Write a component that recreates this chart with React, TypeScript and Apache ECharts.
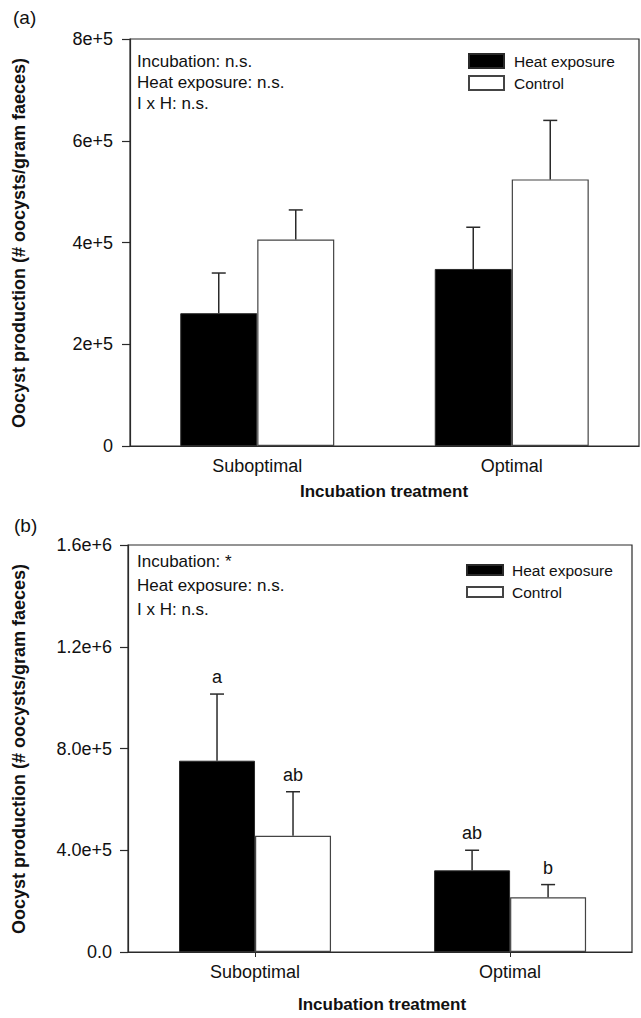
import React, { useEffect, useRef } from "react";
import * as echarts from "echarts";

const categories = ["Suboptimal", "Optimal"];

// Panel (a)
const heatA = [261000, 348000];
const heatAErr = [79000, 82000];
const controlA = [406000, 524000];
const controlAErr = [58000, 116000];

// Panel (b)
const heatB = [752000, 321000];
const heatBErr = [262000, 79000];
const controlB = [457000, 215000];
const controlBErr = [173000, 50000];
const lettersHeatB = ["a", "ab"];
const lettersControlB = ["ab", "b"];

const statsA = ["Incubation: n.s.", "Heat exposure: n.s.", "I x H: n.s."];
const statsB = ["Incubation: *", "Heat exposure: n.s.", "I x H: n.s."];

const FONT = "'Liberation Sans', Arial, Helvetica, sans-serif";
const DARK = "#2a2a2a";

function errSeries(name: string, gridIdx: number, means: number[], errs: number[], sign: number, barW: number, letters?: string[]) {
  return {
    type: "custom",
    name: name + "_err",
    xAxisIndex: gridIdx,
    yAxisIndex: gridIdx,
    z: 5,
    silent: true,
    encode: { x: 0, y: 1 },
    data: means.map((m, i) => [i, m, errs[i]]),
    renderItem: (params: any, api: any) => {
      const idx = api.value(0);
      const mean = api.value(1);
      const err = api.value(2);
      const base = api.coord([idx, mean]);
      const top = api.coord([idx, mean + err]);
      const x = base[0] + (sign * barW) / 2;
      const children: any[] = [
        { type: "line", shape: { x1: x, y1: base[1], x2: x, y2: top[1] }, style: { stroke: DARK, lineWidth: 1.5 } },
        { type: "line", shape: { x1: x - 7, y1: top[1], x2: x + 7, y2: top[1] }, style: { stroke: DARK, lineWidth: 1.5 } },
      ];
      if (letters) {
        children.push({
          type: "text",
          style: {
            x: x,
            y: top[1] - 8,
            text: letters[params.dataIndex],
            fill: "#111",
            font: `18px ${FONT}`,
            textAlign: "center",
            textVerticalAlign: "bottom",
          },
        });
      }
      return { type: "group", children };
    },
  };
}

export default function App() {
  const ref = useRef<HTMLDivElement>(null);
  useEffect(() => {
    if (!ref.current) return;
    const chart = echarts.init(ref.current, undefined, { renderer: "svg" });
    const barWA = 77;
    const barWB = 76;
    const axisLine = { show: true, onZero: false, lineStyle: { color: DARK, width: 1.2 } };
    const statText = (lines: string[], ys: number[]) =>
      lines.map((t, i) => ({
        type: "text",
        left: 137,
        top: ys[i] - 9,
        style: { text: t, font: `17px ${FONT}`, fill: "#111" },
      }));
    const catLabel = { color: "#111", fontSize: 18, margin: 11, fontFamily: FONT };
    const option: any = {
      animation: false,
      backgroundColor: "#fff",
      textStyle: { fontFamily: FONT },
      grid: [
        { left: 130, top: 39, width: 509, height: 407, show: true, borderColor: DARK, borderWidth: 1.2, backgroundColor: "transparent" },
        { left: 128, top: 545, width: 504, height: 407, show: true, borderColor: DARK, borderWidth: 1.2, backgroundColor: "transparent" },
      ],
      xAxis: [
        {
          type: "category",
          gridIndex: 0,
          data: categories,
          axisLine,
          splitLine: { show: false },
          axisTick: { show: false },
          axisLabel: catLabel,
        },
        {
          type: "value",
          gridIndex: 1,
          min: -0.498,
          max: 1.478,
          axisLine,
          splitLine: { show: false },
          axisTick: { show: true, length: 5, customValues: [0, 1], lineStyle: { color: DARK } },
          axisLabel: { ...catLabel, customValues: [0, 1], formatter: (v: number) => categories[Math.round(v)] },
        },
      ],
      yAxis: [
        {
          type: "value",
          gridIndex: 0,
          min: 0,
          max: 800000,
          interval: 200000,
          axisLine,
          splitLine: { show: false },
          axisTick: { show: true, length: 8, lineStyle: { color: DARK, width: 1.2 } },
          axisLabel: {
            color: "#111",
            fontSize: 18,
            margin: 17,
            fontFamily: FONT,
            formatter: (v: number) => (v === 0 ? "0" : `${v / 100000}e+5`),
          },
        },
        {
          type: "value",
          gridIndex: 1,
          min: 0,
          max: 1600000,
          interval: 400000,
          axisLine,
          splitLine: { show: false },
          axisTick: { show: true, length: 8, lineStyle: { color: DARK, width: 1.2 } },
          axisLabel: {
            color: "#111",
            fontSize: 18,
            margin: 16,
            fontFamily: FONT,
            formatter: (v: number) => {
              if (v === 0) return "0.0";
              if (v < 1000000) return `${(v / 100000).toFixed(1)}e+5`;
              return `${(v / 1000000).toFixed(1)}e+6`;
            },
          },
        },
      ],
      legend: [
        {
          left: 468,
          top: 53,
          padding: 0,
          orient: "vertical",
          icon: "rect",
          itemWidth: 35,
          itemHeight: 14,
          itemGap: 6,
          selectedMode: false,
          data: ["Heat exposure", "Control"],
          textStyle: { fontSize: 15.5, color: "#111", lineHeight: 14, fontFamily: FONT, padding: [0, 0, 0, 5] },
        },
        {
          left: 466,
          top: 562,
          padding: 0,
          orient: "vertical",
          icon: "rect",
          itemWidth: 36,
          itemHeight: 10,
          itemGap: 6,
          selectedMode: false,
          data: ["Heat exposure", "Control"],
          textStyle: { fontSize: 15.5, color: "#111", lineHeight: 10, fontFamily: FONT, padding: [0, 0, 0, 4] },
        },
      ],
      series: [
        {
          type: "bar",
          name: "Heat exposure",
          xAxisIndex: 0,
          yAxisIndex: 0,
          barWidth: barWA,
          barGap: "0%",
          data: heatA,
          itemStyle: { color: "#000", borderColor: DARK, borderWidth: 1 },
        },
        {
          type: "bar",
          name: "Control",
          xAxisIndex: 0,
          yAxisIndex: 0,
          barWidth: barWA,
          barGap: "0%",
          data: controlA,
          itemStyle: { color: "#fff", borderColor: "#444", borderWidth: 1.2 },
        },
        {
          type: "bar",
          name: "Heat exposure",
          xAxisIndex: 1,
          yAxisIndex: 1,
          barWidth: barWB,
          barGap: "0%",
          data: heatB.map((v, i) => [i, v]),
          itemStyle: { color: "#000", borderColor: DARK, borderWidth: 1 },
        },
        {
          type: "bar",
          name: "Control",
          xAxisIndex: 1,
          yAxisIndex: 1,
          barWidth: barWB,
          barGap: "0%",
          data: controlB.map((v, i) => [i, v]),
          itemStyle: { color: "#fff", borderColor: "#444", borderWidth: 1.2 },
        },
        errSeries("heatA", 0, heatA, heatAErr, -1, barWA),
        errSeries("controlA", 0, controlA, controlAErr, 1, barWA),
        errSeries("heatB", 1, heatB, heatBErr, -1, barWB, lettersHeatB),
        errSeries("controlB", 1, controlB, controlBErr, 1, barWB, lettersControlB),
      ],
      graphic: [
        { type: "text", left: 13, top: 8, style: { text: "(a)", font: `19px ${FONT}`, fill: "#111" } },
        { type: "text", left: 14, top: 516, style: { text: "(b)", font: `19px ${FONT}`, fill: "#111" } },
        ...statText(statsA, [62, 83, 104]),
        ...statText(statsB, [562, 586, 610]),
        {
          type: "text",
          x: 384,
          y: 491,
          style: { text: "Incubation treatment", font: `bold 17px ${FONT}`, fill: "#111", textAlign: "center", textVerticalAlign: "middle" },
        },
        {
          type: "text",
          x: 382,
          y: 1004,
          style: { text: "Incubation treatment", font: `bold 17px ${FONT}`, fill: "#111", textAlign: "center", textVerticalAlign: "middle" },
        },
        {
          type: "text",
          x: 19,
          y: 243,
          rotation: Math.PI / 2,
          style: { text: "Oocyst production (# oocysts/gram faeces)", font: `bold 18px ${FONT}`, fill: "#111", textAlign: "center", textVerticalAlign: "middle" },
        },
        {
          type: "text",
          x: 19,
          y: 749,
          rotation: Math.PI / 2,
          style: { text: "Oocyst production (# oocysts/gram faeces)", font: `bold 18px ${FONT}`, fill: "#111", textAlign: "center", textVerticalAlign: "middle" },
        },
      ],
    };
    chart.setOption(option);
    return () => chart.dispose();
  }, []);
  return <div ref={ref} style={{ position: "absolute", left: 0, top: 0, width: 641, height: 1018, background: "#fff" }} />;
}
